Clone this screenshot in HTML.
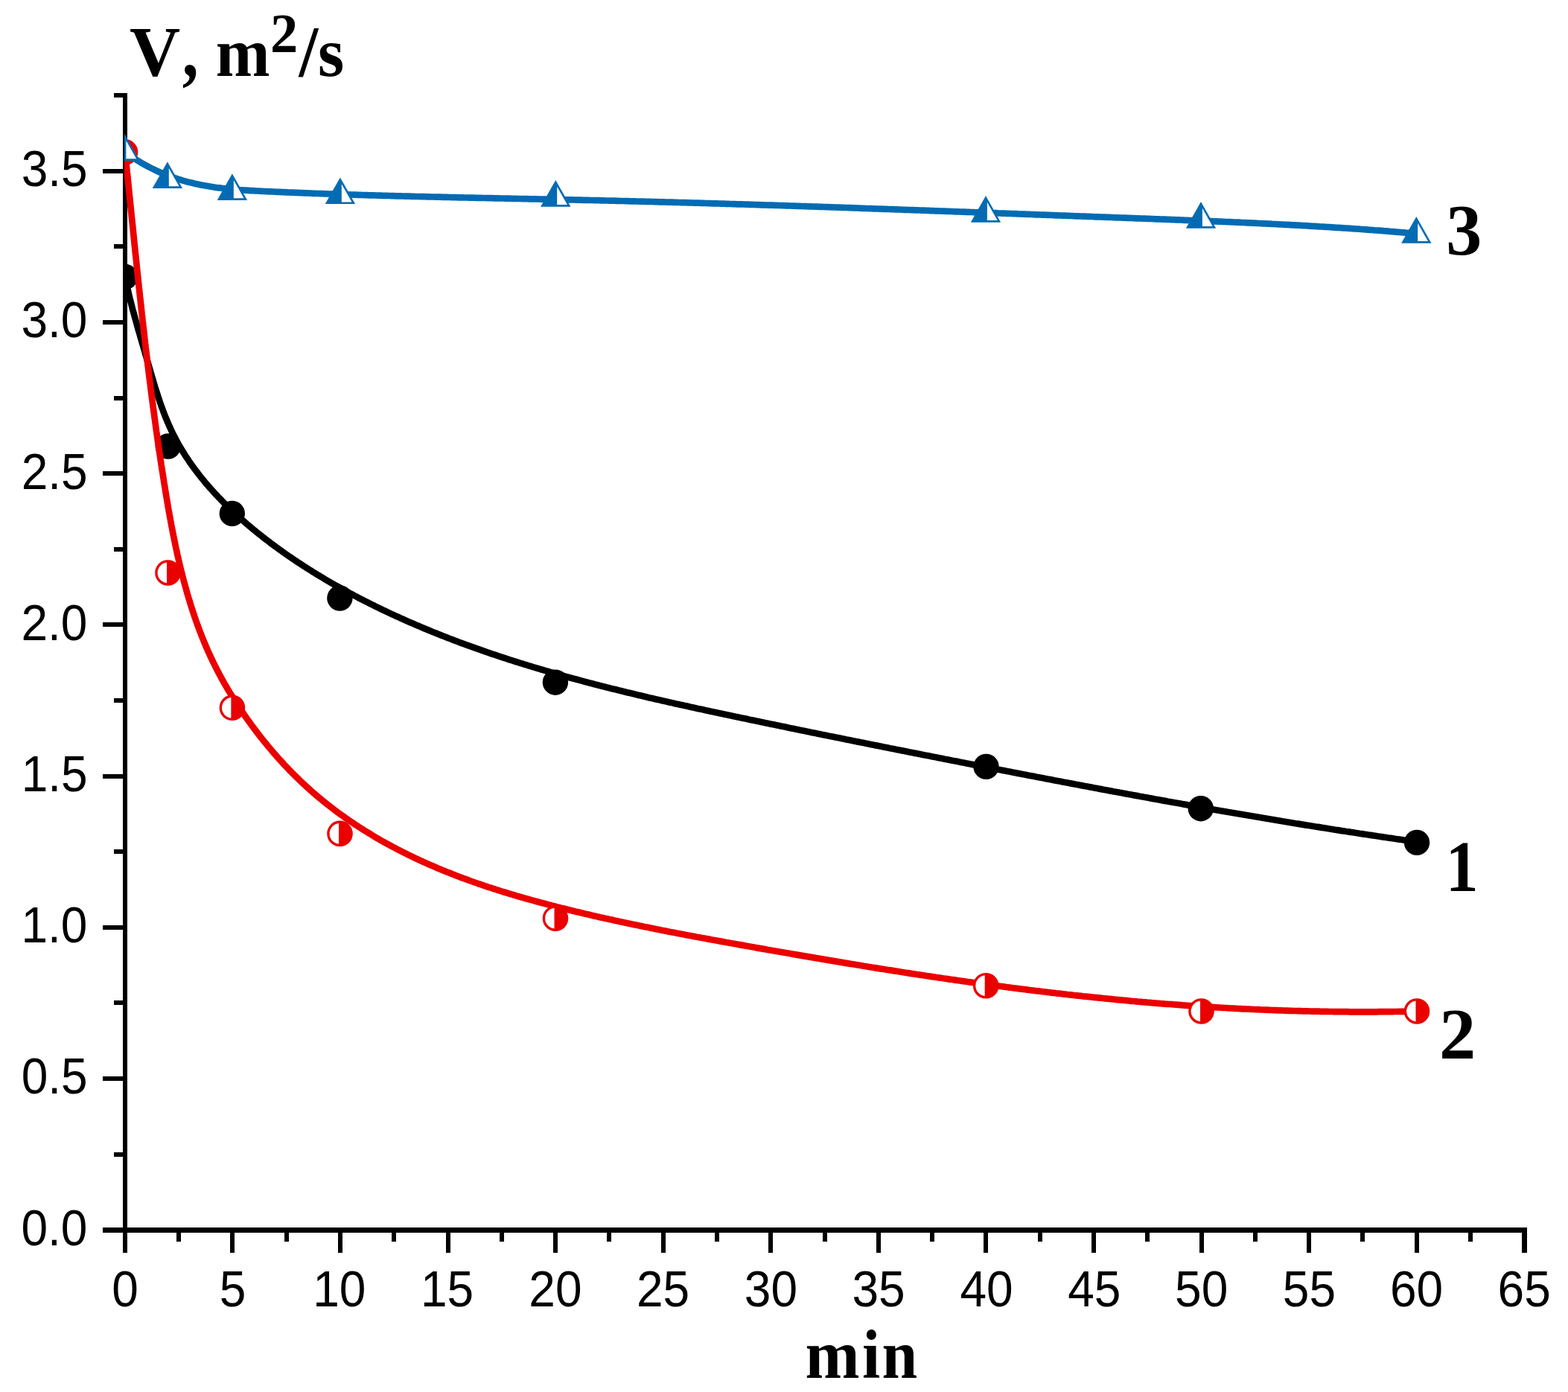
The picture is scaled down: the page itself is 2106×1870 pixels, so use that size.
<!DOCTYPE html>
<html><head><meta charset="utf-8"><title>V vs min</title><style>
html,body{margin:0;padding:0;background:#fff;}
svg{display:block;}
text{fill:#000;}
.ss{font-family:"Liberation Sans",Arial,sans-serif;font-size:64px;}
.sf{font-family:"Liberation Serif","Times New Roman",serif;font-weight:bold;font-size:96px;}
</style></head><body>
<svg width="2106" height="1870" viewBox="0 0 2106 1870">
<rect width="2106" height="1870" fill="#fff"/>
<g fill="#000" shape-rendering="crispEdges">
<rect x="165" y="125" width="6" height="1558"/>
<rect x="138" y="1649" width="1913" height="7"/>
<rect x="138" y="1649" width="30" height="6"/>
<rect x="153" y="1548" width="15" height="6"/>
<rect x="138" y="1446" width="30" height="6"/>
<rect x="153" y="1344" width="15" height="6"/>
<rect x="138" y="1243" width="30" height="6"/>
<rect x="153" y="1141" width="15" height="6"/>
<rect x="138" y="1040" width="30" height="6"/>
<rect x="153" y="938" width="15" height="6"/>
<rect x="138" y="836" width="30" height="6"/>
<rect x="153" y="735" width="15" height="6"/>
<rect x="138" y="633" width="30" height="6"/>
<rect x="153" y="532" width="15" height="6"/>
<rect x="138" y="430" width="30" height="6"/>
<rect x="153" y="328" width="15" height="6"/>
<rect x="138" y="227" width="30" height="6"/>
<rect x="153" y="125" width="15" height="6"/>
<rect x="165" y="1650" width="6" height="33"/>
<rect x="237" y="1650" width="6" height="18"/>
<rect x="309" y="1650" width="6" height="33"/>
<rect x="382" y="1650" width="6" height="18"/>
<rect x="454" y="1650" width="6" height="33"/>
<rect x="526" y="1650" width="6" height="18"/>
<rect x="599" y="1650" width="6" height="33"/>
<rect x="671" y="1650" width="6" height="18"/>
<rect x="743" y="1650" width="6" height="33"/>
<rect x="815" y="1650" width="6" height="18"/>
<rect x="888" y="1650" width="6" height="33"/>
<rect x="960" y="1650" width="6" height="18"/>
<rect x="1032" y="1650" width="6" height="33"/>
<rect x="1105" y="1650" width="6" height="18"/>
<rect x="1177" y="1650" width="6" height="33"/>
<rect x="1249" y="1650" width="6" height="18"/>
<rect x="1321" y="1650" width="6" height="33"/>
<rect x="1394" y="1650" width="6" height="18"/>
<rect x="1466" y="1650" width="6" height="33"/>
<rect x="1538" y="1650" width="6" height="18"/>
<rect x="1611" y="1650" width="6" height="33"/>
<rect x="1683" y="1650" width="6" height="18"/>
<rect x="1755" y="1650" width="6" height="33"/>
<rect x="1827" y="1650" width="6" height="18"/>
<rect x="1900" y="1650" width="6" height="33"/>
<rect x="1972" y="1650" width="6" height="18"/>
<rect x="2044" y="1650" width="7" height="33"/>
</g>
<defs><clipPath id="pc"><rect x="167" y="0" width="1939" height="1870"/></clipPath></defs>
<g clip-path="url(#pc)">
<path d="M168.0,372.0 L168.6,375.0 L169.2,377.9 L169.8,380.9 L170.5,383.8 L171.1,386.8 L171.8,389.7 L172.4,392.6 L173.1,395.5 L173.8,398.4 L174.5,401.3 L175.3,404.2 L176.0,407.1 L176.7,410.0 L177.5,412.9 L178.2,415.8 L179.0,418.7 L179.8,421.5 L180.6,424.4 L181.4,427.3 L182.2,430.2 L183.0,433.0 L183.8,435.9 L184.6,438.8 L185.4,441.6 L186.2,444.5 L187.1,447.3 L187.9,450.2 L188.7,453.1 L189.6,455.9 L190.4,458.8 L191.2,461.7 L192.1,464.5 L192.9,467.4 L193.8,470.3 L194.6,473.1 L195.4,476.0 L196.3,478.9 L197.1,481.8 L197.9,484.7 L198.8,487.6 L199.6,490.5 L200.4,493.4 L201.3,496.3 L202.1,499.2 L203.0,502.1 L203.8,505.0 L204.7,507.9 L205.5,510.8 L206.4,513.7 L207.3,516.6 L208.1,519.5 L209.0,522.3 L209.9,525.2 L210.9,528.1 L211.8,531.0 L212.7,533.8 L213.7,536.7 L214.6,539.5 L215.6,542.4 L216.6,545.2 L217.7,548.1 L218.7,550.9 L219.7,553.7 L220.8,556.5 L221.9,559.3 L223.0,562.0 L224.2,564.8 L225.3,567.6 L226.5,570.3 L227.7,573.0 L229.0,575.7 L230.2,578.4 L231.5,581.1 L232.8,583.8 L234.2,586.4 L235.6,589.1 L237.0,591.7 L238.4,594.3 L239.8,596.9 L241.3,599.4 L242.8,602.0 L244.3,604.5 L245.9,607.1 L247.4,609.6 L249.0,612.1 L250.6,614.6 L252.3,617.0 L253.9,619.5 L255.6,621.9 L257.3,624.4 L259.1,626.8 L260.8,629.2 L262.6,631.6 L264.4,633.9 L266.2,636.3 L268.0,638.6 L269.8,641.0 L271.7,643.3 L273.6,645.6 L275.5,647.9 L277.4,650.2 L279.4,652.4 L281.3,654.7 L283.3,656.9 L285.3,659.1 L287.3,661.4 L289.3,663.6 L291.4,665.7 L293.4,667.9 L295.5,670.1 L297.6,672.2 L299.7,674.4 L301.8,676.5 L304.0,678.6 L306.1,680.7 L308.3,682.8 L310.4,684.9 L312.6,686.9 L314.8,689.0 L317.0,691.0 L319.3,693.0 L321.5,695.1 L323.7,697.1 L326.0,699.0 L328.3,701.0 L330.5,703.0 L332.8,705.0 L335.1,706.9 L337.4,708.8 L339.7,710.8 L342.1,712.7 L344.4,714.6 L346.7,716.5 L349.1,718.3 L351.5,720.2 L353.8,722.1 L356.2,723.9 L358.6,725.7 L361.0,727.6 L363.4,729.4 L365.8,731.2 L368.2,733.0 L370.6,734.8 L373.0,736.5 L375.4,738.3 L377.9,740.0 L380.3,741.8 L382.8,743.5 L385.2,745.2 L387.7,747.0 L390.2,748.7 L392.7,750.4 L395.1,752.0 L397.6,753.7 L400.1,755.4 L402.6,757.0 L405.2,758.7 L407.7,760.3 L410.2,761.9 L412.7,763.5 L415.3,765.1 L417.8,766.7 L420.3,768.3 L422.9,769.9 L425.4,771.5 L428.0,773.0 L430.6,774.6 L433.2,776.1 L435.7,777.7 L438.3,779.2 L440.9,780.7 L443.5,782.2 L446.1,783.7 L448.7,785.2 L451.3,786.7 L453.9,788.1 L456.5,789.6 L459.2,791.1 L461.8,792.5 L464.4,793.9 L467.0,795.4 L469.7,796.8 L472.3,798.2 L475.0,799.6 L477.6,801.0 L480.3,802.4 L482.9,803.8 L485.6,805.2 L488.3,806.5 L490.9,807.9 L493.6,809.2 L496.3,810.6 L498.9,811.9 L501.6,813.2 L504.3,814.6 L507.0,815.9 L509.7,817.2 L512.4,818.5 L515.1,819.8 L517.8,821.0 L520.5,822.3 L523.2,823.6 L525.9,824.9 L528.6,826.1 L531.3,827.4 L534.0,828.6 L536.8,829.8 L539.5,831.1 L542.2,832.3 L544.9,833.5 L547.7,834.7 L550.4,835.9 L553.1,837.1 L555.9,838.3 L558.6,839.5 L561.4,840.6 L564.1,841.8 L566.9,843.0 L569.6,844.1 L572.4,845.3 L575.1,846.4 L577.9,847.5 L580.6,848.7 L583.4,849.8 L586.2,850.9 L589.0,852.0 L591.7,853.1 L594.5,854.2 L597.3,855.3 L600.1,856.4 L602.8,857.5 L605.6,858.5 L608.4,859.6 L611.2,860.7 L614.0,861.7 L616.8,862.8 L619.6,863.8 L622.4,864.8 L625.2,865.9 L628.0,866.9 L630.8,867.9 L633.6,868.9 L636.4,869.9 L639.2,870.9 L642.1,871.9 L644.9,872.9 L647.7,873.9 L650.5,874.9 L653.3,875.9 L656.2,876.8 L659.0,877.8 L661.8,878.8 L664.7,879.7 L667.5,880.7 L670.3,881.6 L673.2,882.6 L676.0,883.5 L678.9,884.4 L681.7,885.3 L684.5,886.3 L687.4,887.2 L690.2,888.1 L693.1,889.0 L695.9,889.9 L698.8,890.8 L701.7,891.7 L704.5,892.6 L707.4,893.4 L710.2,894.3 L713.1,895.2 L716.0,896.1 L718.8,896.9 L721.7,897.8 L724.6,898.6 L727.4,899.5 L730.3,900.3 L733.2,901.2 L736.1,902.0 L738.9,902.9 L741.8,903.7 L744.7,904.5 L747.6,905.3 L750.5,906.1 L753.3,907.0 L756.2,907.8 L759.1,908.6 L762.0,909.4 L764.9,910.2 L767.8,911.0 L770.7,911.8 L773.6,912.5 L776.5,913.3 L779.4,914.1 L782.3,914.9 L785.2,915.7 L788.1,916.4 L791.0,917.2 L793.9,917.9 L796.8,918.7 L799.7,919.5 L802.6,920.2 L805.5,921.0 L808.4,921.7 L811.3,922.4 L814.2,923.2 L817.1,923.9 L820.1,924.7 L823.0,925.4 L825.9,926.1 L828.8,926.8 L831.7,927.6 L834.6,928.3 L837.6,929.0 L840.5,929.7 L843.4,930.4 L846.3,931.1 L849.2,931.8 L852.2,932.5 L855.1,933.2 L858.0,933.9 L860.9,934.6 L863.8,935.3 L866.8,936.0 L869.7,936.7 L872.6,937.4 L875.6,938.0 L878.5,938.7 L881.4,939.4 L884.3,940.1 L887.3,940.7 L890.2,941.4 L893.1,942.1 L896.1,942.7 L899.0,943.4 L901.9,944.1 L904.9,944.7 L907.8,945.4 L910.7,946.0 L913.7,946.7 L916.6,947.3 L919.5,948.0 L922.5,948.6 L925.4,949.3 L928.3,949.9 L931.3,950.6 L934.2,951.2 L937.2,951.9 L940.1,952.5 L943.0,953.1 L946.0,953.8 L948.9,954.4 L951.8,955.0 L954.8,955.7 L957.7,956.3 L960.7,956.9 L963.6,957.6 L966.5,958.2 L969.5,958.8 L972.4,959.4 L975.3,960.1 L978.3,960.7 L981.2,961.3 L984.2,961.9 L987.1,962.6 L990.0,963.2 L993.0,963.8 L995.9,964.4 L998.8,965.0 L1001.8,965.6 L1004.7,966.3 L1007.6,966.9 L1010.6,967.5 L1013.5,968.1 L1016.5,968.7 L1019.4,969.3 L1022.3,969.9 L1025.3,970.6 L1028.2,971.2 L1031.1,971.8 L1034.1,972.4 L1037.0,973.0 L1039.9,973.6 L1042.9,974.2 L1045.8,974.8 L1048.7,975.4 L1051.7,976.0 L1054.6,976.6 L1057.5,977.3 L1060.5,977.9 L1063.4,978.5 L1066.3,979.1 L1069.3,979.7 L1072.2,980.3 L1075.1,980.9 L1078.1,981.5 L1081.0,982.1 L1083.9,982.7 L1086.9,983.3 L1089.8,983.9 L1092.7,984.5 L1095.7,985.1 L1098.6,985.7 L1101.5,986.3 L1104.5,986.9 L1107.4,987.5 L1110.3,988.1 L1113.3,988.7 L1116.2,989.2 L1119.1,989.8 L1122.1,990.4 L1125.0,991.0 L1127.9,991.6 L1130.9,992.2 L1133.8,992.8 L1136.7,993.4 L1139.7,994.0 L1142.6,994.6 L1145.5,995.2 L1148.5,995.8 L1151.4,996.4 L1154.3,996.9 L1157.2,997.5 L1160.2,998.1 L1163.1,998.7 L1166.0,999.3 L1169.0,999.9 L1171.9,1000.5 L1174.8,1001.1 L1177.8,1001.6 L1180.7,1002.2 L1183.6,1002.8 L1186.6,1003.4 L1189.5,1004.0 L1192.4,1004.6 L1195.4,1005.2 L1198.3,1005.7 L1201.2,1006.3 L1204.2,1006.9 L1207.1,1007.5 L1210.0,1008.1 L1213.0,1008.6 L1215.9,1009.2 L1218.8,1009.8 L1221.8,1010.4 L1224.7,1011.0 L1227.6,1011.6 L1230.6,1012.1 L1233.5,1012.7 L1236.4,1013.3 L1239.4,1013.9 L1242.3,1014.5 L1245.2,1015.0 L1248.2,1015.6 L1251.1,1016.2 L1254.0,1016.8 L1257.0,1017.3 L1259.9,1017.9 L1262.8,1018.5 L1265.8,1019.1 L1268.7,1019.7 L1271.6,1020.2 L1274.6,1020.8 L1277.5,1021.4 L1280.4,1022.0 L1283.4,1022.5 L1286.3,1023.1 L1289.2,1023.7 L1292.2,1024.3 L1295.1,1024.8 L1298.1,1025.4 L1301.0,1026.0 L1303.9,1026.6 L1306.9,1027.1 L1309.8,1027.7 L1312.7,1028.3 L1315.7,1028.9 L1318.6,1029.4 L1321.6,1030.0 L1324.5,1030.6 L1327.4,1031.1 L1330.4,1031.7 L1333.3,1032.3 L1336.2,1032.9 L1339.2,1033.4 L1342.1,1034.0 L1345.1,1034.6 L1348.0,1035.1 L1350.9,1035.7 L1353.9,1036.3 L1356.8,1036.8 L1359.8,1037.4 L1362.7,1038.0 L1365.6,1038.6 L1368.6,1039.1 L1371.5,1039.7 L1374.5,1040.3 L1377.4,1040.8 L1380.3,1041.4 L1383.3,1042.0 L1386.2,1042.5 L1389.2,1043.1 L1392.1,1043.7 L1395.1,1044.2 L1398.0,1044.8 L1400.9,1045.3 L1403.9,1045.9 L1406.8,1046.5 L1409.8,1047.0 L1412.7,1047.6 L1415.7,1048.2 L1418.6,1048.7 L1421.5,1049.3 L1424.5,1049.8 L1427.4,1050.4 L1430.4,1051.0 L1433.3,1051.5 L1436.3,1052.1 L1439.2,1052.6 L1442.1,1053.2 L1445.1,1053.8 L1448.0,1054.3 L1451.0,1054.9 L1453.9,1055.4 L1456.9,1056.0 L1459.8,1056.5 L1462.8,1057.1 L1465.7,1057.6 L1468.7,1058.2 L1471.6,1058.7 L1474.5,1059.3 L1477.5,1059.9 L1480.4,1060.4 L1483.4,1061.0 L1486.3,1061.5 L1489.3,1062.1 L1492.2,1062.6 L1495.2,1063.2 L1498.1,1063.7 L1501.1,1064.2 L1504.0,1064.8 L1507.0,1065.3 L1509.9,1065.9 L1512.9,1066.4 L1515.8,1067.0 L1518.8,1067.5 L1521.7,1068.1 L1524.7,1068.6 L1527.6,1069.1 L1530.6,1069.7 L1533.5,1070.2 L1536.5,1070.8 L1539.4,1071.3 L1542.3,1071.8 L1545.3,1072.4 L1548.2,1072.9 L1551.2,1073.5 L1554.1,1074.0 L1557.1,1074.5 L1560.0,1075.1 L1563.0,1075.6 L1565.9,1076.1 L1568.9,1076.7 L1571.8,1077.2 L1574.8,1077.7 L1577.8,1078.3 L1580.7,1078.8 L1583.7,1079.3 L1586.6,1079.8 L1589.6,1080.4 L1592.5,1080.9 L1595.5,1081.4 L1598.4,1082.0 L1601.4,1082.5 L1604.3,1083.0 L1607.3,1083.5 L1610.2,1084.0 L1613.2,1084.6 L1616.1,1085.1 L1619.1,1085.6 L1622.0,1086.1 L1625.0,1086.6 L1627.9,1087.2 L1630.9,1087.7 L1633.8,1088.2 L1636.8,1088.7 L1639.7,1089.2 L1642.7,1089.7 L1645.7,1090.2 L1648.6,1090.8 L1651.6,1091.3 L1654.5,1091.8 L1657.5,1092.3 L1660.4,1092.8 L1663.4,1093.3 L1666.3,1093.8 L1669.3,1094.3 L1672.2,1094.8 L1675.2,1095.3 L1678.2,1095.8 L1681.1,1096.3 L1684.1,1096.8 L1687.0,1097.3 L1690.0,1097.8 L1692.9,1098.3 L1695.9,1098.8 L1698.8,1099.3 L1701.8,1099.8 L1704.8,1100.3 L1707.7,1100.8 L1710.7,1101.3 L1713.6,1101.8 L1716.6,1102.3 L1719.5,1102.8 L1722.5,1103.3 L1725.4,1103.7 L1728.4,1104.2 L1731.4,1104.7 L1734.3,1105.2 L1737.3,1105.7 L1740.2,1106.2 L1743.2,1106.6 L1746.1,1107.1 L1749.1,1107.6 L1752.1,1108.1 L1755.0,1108.6 L1758.0,1109.0 L1760.9,1109.5 L1763.9,1110.0 L1766.8,1110.5 L1769.8,1110.9 L1772.8,1111.4 L1775.7,1111.9 L1778.7,1112.3 L1781.6,1112.8 L1784.6,1113.3 L1787.6,1113.7 L1790.5,1114.2 L1793.5,1114.7 L1796.4,1115.1 L1799.4,1115.6 L1802.3,1116.1 L1805.3,1116.5 L1808.3,1117.0 L1811.2,1117.4 L1814.2,1117.9 L1817.1,1118.3 L1820.1,1118.8 L1823.1,1119.2 L1826.0,1119.7 L1829.0,1120.1 L1831.9,1120.6 L1834.9,1121.0 L1837.9,1121.5 L1840.8,1121.9 L1843.8,1122.4 L1846.7,1122.8 L1849.7,1123.3 L1852.7,1123.7 L1855.6,1124.1 L1858.6,1124.6 L1861.5,1125.0 L1864.5,1125.5 L1867.5,1125.9 L1870.4,1126.3 L1873.4,1126.8 L1876.3,1127.2 L1879.3,1127.6 L1882.3,1128.0 L1885.2,1128.5 L1888.2,1128.9 L1891.1,1129.3 L1894.1,1129.7 L1897.1,1130.2 L1900.0,1130.6 L1903.0,1131.0" fill="none" stroke="#000000" stroke-width="8.7" stroke-linejoin="round"/>
<circle cx="168" cy="372" r="17.2" fill="#000000"/>
<circle cx="225.8" cy="599.5" r="17.2" fill="#000000"/>
<circle cx="311.8" cy="689.9" r="17.2" fill="#000000"/>
<circle cx="456.4" cy="803.5" r="17.2" fill="#000000"/>
<circle cx="745.9" cy="916.7" r="17.2" fill="#000000"/>
<circle cx="1324.5" cy="1029.9" r="17.2" fill="#000000"/>
<circle cx="1612.8" cy="1086.2" r="17.2" fill="#000000"/>
<circle cx="1903" cy="1131.9" r="17.2" fill="#000000"/>
<path d="M168.0,204.4 L168.3,207.4 L168.6,210.4 L168.9,213.3 L169.2,216.3 L169.5,219.3 L169.8,222.3 L170.1,225.3 L170.4,228.3 L170.7,231.2 L171.1,234.2 L171.4,237.2 L171.7,240.2 L172.0,243.2 L172.3,246.2 L172.6,249.1 L172.9,252.1 L173.2,255.1 L173.5,258.1 L173.8,261.1 L174.1,264.1 L174.4,267.0 L174.7,270.0 L175.0,273.0 L175.3,276.0 L175.6,279.0 L175.9,282.0 L176.2,284.9 L176.5,287.9 L176.8,290.9 L177.1,293.9 L177.4,296.9 L177.8,299.8 L178.1,302.8 L178.4,305.8 L178.7,308.8 L179.0,311.8 L179.3,314.8 L179.6,317.7 L179.9,320.7 L180.2,323.7 L180.5,326.7 L180.8,329.7 L181.1,332.6 L181.4,335.6 L181.7,338.6 L182.0,341.6 L182.4,344.6 L182.7,347.6 L183.0,350.5 L183.3,353.5 L183.6,356.5 L183.9,359.5 L184.2,362.5 L184.5,365.4 L184.8,368.4 L185.2,371.4 L185.5,374.4 L185.8,377.4 L186.1,380.3 L186.4,383.3 L186.7,386.3 L187.1,389.3 L187.4,392.3 L187.7,395.2 L188.0,398.2 L188.4,401.2 L188.7,404.2 L189.0,407.1 L189.3,410.1 L189.7,413.1 L190.0,416.1 L190.3,419.1 L190.6,422.0 L191.0,425.0 L191.3,428.0 L191.6,431.0 L192.0,433.9 L192.3,436.9 L192.6,439.9 L193.0,442.9 L193.3,445.9 L193.7,448.8 L194.0,451.8 L194.3,454.8 L194.7,457.8 L195.0,460.7 L195.4,463.7 L195.7,466.7 L196.1,469.7 L196.4,472.6 L196.8,475.6 L197.1,478.6 L197.5,481.6 L197.8,484.5 L198.2,487.5 L198.5,490.5 L198.9,493.5 L199.3,496.4 L199.6,499.4 L200.0,502.4 L200.4,505.4 L200.7,508.3 L201.1,511.3 L201.5,514.3 L201.9,517.3 L202.2,520.2 L202.6,523.2 L203.0,526.2 L203.4,529.1 L203.7,532.1 L204.1,535.1 L204.5,538.1 L204.9,541.0 L205.3,544.0 L205.7,547.0 L206.1,549.9 L206.5,552.9 L206.9,555.9 L207.3,558.9 L207.7,561.8 L208.1,564.8 L208.5,567.8 L208.9,570.7 L209.3,573.7 L209.7,576.7 L210.1,579.6 L210.6,582.6 L211.0,585.6 L211.4,588.5 L211.8,591.5 L212.2,594.5 L212.7,597.4 L213.1,600.4 L213.5,603.4 L214.0,606.3 L214.4,609.3 L214.8,612.3 L215.3,615.2 L215.7,618.2 L216.2,621.2 L216.6,624.1 L217.1,627.1 L217.5,630.1 L218.0,633.0 L218.5,636.0 L218.9,639.0 L219.4,641.9 L219.9,644.9 L220.3,647.9 L220.8,650.8 L221.3,653.8 L221.8,656.7 L222.2,659.7 L222.7,662.7 L223.2,665.6 L223.7,668.6 L224.2,671.5 L224.7,674.5 L225.2,677.5 L225.7,680.4 L226.2,683.4 L226.7,686.3 L227.3,689.3 L227.8,692.2 L228.3,695.2 L228.9,698.1 L229.4,701.1 L229.9,704.0 L230.5,707.0 L231.1,709.9 L231.6,712.9 L232.2,715.8 L232.8,718.8 L233.4,721.7 L234.0,724.7 L234.6,727.6 L235.2,730.5 L235.8,733.5 L236.4,736.4 L237.1,739.3 L237.7,742.3 L238.3,745.2 L239.0,748.1 L239.7,751.0 L240.3,754.0 L241.0,756.9 L241.7,759.8 L242.4,762.7 L243.1,765.6 L243.8,768.5 L244.6,771.4 L245.3,774.3 L246.1,777.2 L246.8,780.1 L247.6,783.0 L248.4,785.9 L249.2,788.8 L250.0,791.7 L250.8,794.6 L251.6,797.5 L252.5,800.3 L253.3,803.2 L254.2,806.1 L255.1,809.0 L255.9,811.8 L256.8,814.7 L257.8,817.5 L258.7,820.4 L259.6,823.2 L260.6,826.1 L261.5,828.9 L262.5,831.7 L263.5,834.6 L264.5,837.4 L265.5,840.2 L266.6,843.0 L267.6,845.8 L268.7,848.6 L269.7,851.4 L270.8,854.2 L271.9,857.0 L273.1,859.7 L274.2,862.5 L275.4,865.3 L276.5,868.0 L277.7,870.8 L278.9,873.5 L280.1,876.2 L281.4,879.0 L282.6,881.7 L283.9,884.4 L285.2,887.1 L286.5,889.8 L287.8,892.4 L289.1,895.1 L290.5,897.8 L291.8,900.4 L293.2,903.1 L294.6,905.7 L296.0,908.3 L297.4,911.0 L298.9,913.6 L300.3,916.2 L301.8,918.8 L303.3,921.4 L304.8,924.0 L306.3,926.5 L307.9,929.1 L309.4,931.7 L311.0,934.2 L312.6,936.8 L314.2,939.3 L315.8,941.8 L317.4,944.3 L319.0,946.9 L320.7,949.4 L322.3,951.9 L324.0,954.3 L325.7,956.8 L327.4,959.3 L329.1,961.8 L330.8,964.2 L332.5,966.7 L334.3,969.1 L336.0,971.5 L337.8,974.0 L339.6,976.4 L341.4,978.8 L343.2,981.2 L345.0,983.6 L346.8,986.0 L348.7,988.4 L350.5,990.7 L352.4,993.1 L354.3,995.4 L356.2,997.8 L358.1,1000.1 L360.0,1002.4 L361.9,1004.7 L363.9,1007.0 L365.8,1009.3 L367.8,1011.6 L369.8,1013.9 L371.7,1016.1 L373.7,1018.4 L375.7,1020.6 L377.8,1022.8 L379.8,1025.0 L381.8,1027.2 L383.9,1029.4 L386.0,1031.6 L388.0,1033.8 L390.1,1035.9 L392.2,1038.1 L394.3,1040.2 L396.5,1042.3 L398.6,1044.4 L400.8,1046.5 L402.9,1048.6 L405.1,1050.7 L407.3,1052.7 L409.5,1054.8 L411.7,1056.8 L413.9,1058.8 L416.1,1060.8 L418.3,1062.8 L420.6,1064.8 L422.9,1066.7 L425.1,1068.7 L427.4,1070.6 L429.7,1072.5 L432.0,1074.4 L434.3,1076.3 L436.6,1078.2 L439.0,1080.1 L441.3,1081.9 L443.7,1083.7 L446.1,1085.6 L448.4,1087.4 L450.8,1089.2 L453.2,1091.0 L455.6,1092.7 L458.0,1094.5 L460.5,1096.2 L462.9,1097.9 L465.3,1099.7 L467.8,1101.4 L470.3,1103.1 L472.7,1104.7 L475.2,1106.4 L477.7,1108.1 L480.2,1109.7 L482.7,1111.3 L485.2,1112.9 L487.7,1114.5 L490.3,1116.1 L492.8,1117.7 L495.4,1119.3 L497.9,1120.8 L500.5,1122.4 L503.0,1123.9 L505.6,1125.4 L508.2,1126.9 L510.8,1128.4 L513.4,1129.9 L516.0,1131.4 L518.6,1132.8 L521.3,1134.3 L523.9,1135.7 L526.5,1137.1 L529.2,1138.5 L531.8,1139.9 L534.5,1141.3 L537.1,1142.7 L539.8,1144.0 L542.5,1145.4 L545.1,1146.7 L547.8,1148.1 L550.5,1149.4 L553.2,1150.7 L555.9,1152.0 L558.6,1153.3 L561.4,1154.5 L564.1,1155.8 L566.8,1157.0 L569.5,1158.3 L572.3,1159.5 L575.0,1160.7 L577.7,1161.9 L580.5,1163.1 L583.3,1164.3 L586.0,1165.5 L588.8,1166.7 L591.5,1167.8 L594.3,1169.0 L597.1,1170.1 L599.9,1171.2 L602.7,1172.3 L605.4,1173.4 L608.2,1174.5 L611.0,1175.6 L613.8,1176.7 L616.6,1177.8 L619.4,1178.8 L622.2,1179.9 L625.1,1180.9 L627.9,1181.9 L630.7,1183.0 L633.5,1184.0 L636.3,1185.0 L639.2,1186.0 L642.0,1187.0 L644.8,1187.9 L647.7,1188.9 L650.5,1189.9 L653.4,1190.8 L656.2,1191.8 L659.1,1192.7 L661.9,1193.6 L664.8,1194.5 L667.6,1195.5 L670.5,1196.4 L673.4,1197.3 L676.2,1198.2 L679.1,1199.0 L682.0,1199.9 L684.8,1200.8 L687.7,1201.6 L690.6,1202.5 L693.5,1203.4 L696.4,1204.2 L699.2,1205.0 L702.1,1205.9 L705.0,1206.7 L707.9,1207.5 L710.8,1208.3 L713.7,1209.1 L716.6,1209.9 L719.5,1210.7 L722.4,1211.5 L725.3,1212.3 L728.2,1213.1 L731.1,1213.8 L734.0,1214.6 L736.9,1215.4 L739.8,1216.1 L742.7,1216.9 L745.6,1217.6 L748.5,1218.4 L751.4,1219.1 L754.3,1219.9 L757.2,1220.6 L760.1,1221.3 L763.0,1222.0 L765.9,1222.8 L768.8,1223.5 L771.8,1224.2 L774.7,1224.9 L777.6,1225.6 L780.5,1226.3 L783.4,1227.0 L786.3,1227.7 L789.3,1228.3 L792.2,1229.0 L795.1,1229.7 L798.0,1230.4 L800.9,1231.1 L803.8,1231.7 L806.8,1232.4 L809.7,1233.0 L812.6,1233.7 L815.5,1234.3 L818.5,1235.0 L821.4,1235.6 L824.3,1236.3 L827.2,1236.9 L830.2,1237.6 L833.1,1238.2 L836.0,1238.8 L838.9,1239.4 L841.9,1240.1 L844.8,1240.7 L847.7,1241.3 L850.7,1241.9 L853.6,1242.5 L856.5,1243.1 L859.4,1243.7 L862.4,1244.3 L865.3,1245.0 L868.2,1245.5 L871.2,1246.1 L874.1,1246.7 L877.1,1247.3 L880.0,1247.9 L882.9,1248.5 L885.9,1249.1 L888.8,1249.7 L891.7,1250.2 L894.7,1250.8 L897.6,1251.4 L900.5,1252.0 L903.5,1252.5 L906.4,1253.1 L909.4,1253.7 L912.3,1254.2 L915.2,1254.8 L918.2,1255.3 L921.1,1255.9 L924.1,1256.5 L927.0,1257.0 L930.0,1257.6 L932.9,1258.1 L935.8,1258.7 L938.8,1259.2 L941.7,1259.8 L944.7,1260.3 L947.6,1260.8 L950.6,1261.4 L953.5,1261.9 L956.4,1262.5 L959.4,1263.0 L962.3,1263.5 L965.3,1264.1 L968.2,1264.6 L971.2,1265.1 L974.1,1265.7 L977.1,1266.2 L980.0,1266.7 L983.0,1267.3 L985.9,1267.8 L988.9,1268.3 L991.8,1268.9 L994.8,1269.4 L997.7,1269.9 L1000.7,1270.4 L1003.6,1271.0 L1006.6,1271.5 L1009.5,1272.0 L1012.5,1272.5 L1015.4,1273.1 L1018.4,1273.6 L1021.3,1274.1 L1024.3,1274.6 L1027.2,1275.1 L1030.2,1275.7 L1033.1,1276.2 L1036.1,1276.7 L1039.0,1277.2 L1042.0,1277.7 L1044.9,1278.3 L1047.9,1278.8 L1050.8,1279.3 L1053.8,1279.8 L1056.7,1280.3 L1059.7,1280.8 L1062.6,1281.3 L1065.6,1281.9 L1068.6,1282.4 L1071.5,1282.9 L1074.5,1283.4 L1077.4,1283.9 L1080.4,1284.4 L1083.3,1284.9 L1086.3,1285.4 L1089.2,1285.9 L1092.2,1286.4 L1095.1,1286.9 L1098.1,1287.4 L1101.1,1287.9 L1104.0,1288.4 L1107.0,1288.9 L1109.9,1289.4 L1112.9,1289.9 L1115.8,1290.4 L1118.8,1290.9 L1121.8,1291.4 L1124.7,1291.9 L1127.7,1292.4 L1130.6,1292.9 L1133.6,1293.4 L1136.5,1293.9 L1139.5,1294.4 L1142.5,1294.9 L1145.4,1295.3 L1148.4,1295.8 L1151.3,1296.3 L1154.3,1296.8 L1157.3,1297.3 L1160.2,1297.8 L1163.2,1298.2 L1166.1,1298.7 L1169.1,1299.2 L1172.1,1299.7 L1175.0,1300.1 L1178.0,1300.6 L1180.9,1301.1 L1183.9,1301.6 L1186.9,1302.0 L1189.8,1302.5 L1192.8,1303.0 L1195.8,1303.4 L1198.7,1303.9 L1201.7,1304.4 L1204.6,1304.8 L1207.6,1305.3 L1210.6,1305.8 L1213.5,1306.2 L1216.5,1306.7 L1219.5,1307.1 L1222.4,1307.6 L1225.4,1308.1 L1228.4,1308.5 L1231.3,1309.0 L1234.3,1309.4 L1237.2,1309.9 L1240.2,1310.3 L1243.2,1310.8 L1246.1,1311.2 L1249.1,1311.6 L1252.1,1312.1 L1255.0,1312.5 L1258.0,1313.0 L1261.0,1313.4 L1263.9,1313.8 L1266.9,1314.3 L1269.9,1314.7 L1272.8,1315.1 L1275.8,1315.6 L1278.8,1316.0 L1281.7,1316.4 L1284.7,1316.9 L1287.7,1317.3 L1290.7,1317.7 L1293.6,1318.1 L1296.6,1318.5 L1299.6,1319.0 L1302.5,1319.4 L1305.5,1319.8 L1308.5,1320.2 L1311.4,1320.6 L1314.4,1321.0 L1317.4,1321.4 L1320.3,1321.8 L1323.3,1322.2 L1326.3,1322.7 L1329.3,1323.1 L1332.2,1323.5 L1335.2,1323.9 L1338.2,1324.2 L1341.1,1324.6 L1344.1,1325.0 L1347.1,1325.4 L1350.1,1325.8 L1353.0,1326.2 L1356.0,1326.6 L1359.0,1327.0 L1362.0,1327.4 L1364.9,1327.7 L1367.9,1328.1 L1370.9,1328.5 L1373.9,1328.9 L1376.8,1329.2 L1379.8,1329.6 L1382.8,1330.0 L1385.8,1330.3 L1388.7,1330.7 L1391.7,1331.1 L1394.7,1331.4 L1397.7,1331.8 L1400.6,1332.2 L1403.6,1332.5 L1406.6,1332.9 L1409.6,1333.2 L1412.5,1333.6 L1415.5,1333.9 L1418.5,1334.3 L1421.5,1334.6 L1424.4,1334.9 L1427.4,1335.3 L1430.4,1335.6 L1433.4,1336.0 L1436.4,1336.3 L1439.3,1336.6 L1442.3,1337.0 L1445.3,1337.3 L1448.3,1337.6 L1451.3,1337.9 L1454.2,1338.3 L1457.2,1338.6 L1460.2,1338.9 L1463.2,1339.2 L1466.2,1339.5 L1469.1,1339.8 L1472.1,1340.1 L1475.1,1340.4 L1478.1,1340.7 L1481.1,1341.0 L1484.0,1341.3 L1487.0,1341.6 L1490.0,1341.9 L1493.0,1342.2 L1496.0,1342.5 L1498.9,1342.8 L1501.9,1343.1 L1504.9,1343.4 L1507.9,1343.7 L1510.9,1343.9 L1513.9,1344.2 L1516.8,1344.5 L1519.8,1344.8 L1522.8,1345.0 L1525.8,1345.3 L1528.8,1345.6 L1531.8,1345.8 L1534.7,1346.1 L1537.7,1346.3 L1540.7,1346.6 L1543.7,1346.8 L1546.7,1347.1 L1549.7,1347.3 L1552.7,1347.6 L1555.6,1347.8 L1558.6,1348.1 L1561.6,1348.3 L1564.6,1348.6 L1567.6,1348.8 L1570.6,1349.0 L1573.6,1349.2 L1576.6,1349.5 L1579.5,1349.7 L1582.5,1349.9 L1585.5,1350.1 L1588.5,1350.4 L1591.5,1350.6 L1594.5,1350.8 L1597.5,1351.0 L1600.5,1351.2 L1603.4,1351.4 L1606.4,1351.6 L1609.4,1351.8 L1612.4,1352.0 L1615.4,1352.2 L1618.4,1352.4 L1621.4,1352.6 L1624.4,1352.8 L1627.4,1352.9 L1630.4,1353.1 L1633.3,1353.3 L1636.3,1353.5 L1639.3,1353.7 L1642.3,1353.8 L1645.3,1354.0 L1648.3,1354.2 L1651.3,1354.3 L1654.3,1354.5 L1657.3,1354.6 L1660.3,1354.8 L1663.3,1355.0 L1666.2,1355.1 L1669.2,1355.3 L1672.2,1355.4 L1675.2,1355.5 L1678.2,1355.7 L1681.2,1355.8 L1684.2,1356.0 L1687.2,1356.1 L1690.2,1356.2 L1693.2,1356.4 L1696.2,1356.5 L1699.2,1356.6 L1702.2,1356.7 L1705.2,1356.8 L1708.1,1357.0 L1711.1,1357.1 L1714.1,1357.2 L1717.1,1357.3 L1720.1,1357.4 L1723.1,1357.5 L1726.1,1357.6 L1729.1,1357.7 L1732.1,1357.8 L1735.1,1357.9 L1738.1,1358.0 L1741.1,1358.0 L1744.1,1358.1 L1747.1,1358.2 L1750.1,1358.3 L1753.1,1358.3 L1756.1,1358.4 L1759.1,1358.5 L1762.1,1358.6 L1765.1,1358.6 L1768.1,1358.7 L1771.0,1358.7 L1774.0,1358.8 L1777.0,1358.8 L1780.0,1358.9 L1783.0,1358.9 L1786.0,1359.0 L1789.0,1359.0 L1792.0,1359.1 L1795.0,1359.1 L1798.0,1359.1 L1801.0,1359.2 L1804.0,1359.2 L1807.0,1359.2 L1810.0,1359.2 L1813.0,1359.3 L1816.0,1359.3 L1819.0,1359.3 L1822.0,1359.3 L1825.0,1359.3 L1828.0,1359.3 L1831.0,1359.3 L1834.0,1359.3 L1837.0,1359.3 L1840.0,1359.3 L1843.0,1359.3 L1846.0,1359.3 L1849.0,1359.3 L1852.0,1359.2 L1855.0,1359.2 L1858.0,1359.2 L1861.0,1359.2 L1864.0,1359.1 L1867.0,1359.1 L1870.0,1359.1 L1873.0,1359.0 L1876.0,1359.0 L1879.0,1358.9 L1882.0,1358.9 L1885.0,1358.8 L1888.0,1358.8 L1891.0,1358.7 L1894.0,1358.7 L1897.0,1358.6 L1900.0,1358.5 L1903.0,1358.5" fill="none" stroke="#EB0000" stroke-width="8.7" stroke-linejoin="round"/>
<circle cx="168" cy="204.4" r="15.60" fill="#fff" stroke="#EB0000" stroke-width="3.4"/>
<path d="M166.50,188.87 A15.60,15.60 0 1 1 166.50,219.93 Z" fill="#EB0000"/>
<circle cx="225.5" cy="769.5" r="15.60" fill="#fff" stroke="#EB0000" stroke-width="3.4"/>
<path d="M224.00,753.97 A15.60,15.60 0 1 1 224.00,785.03 Z" fill="#EB0000"/>
<circle cx="311.9" cy="950.8" r="15.60" fill="#fff" stroke="#EB0000" stroke-width="3.4"/>
<path d="M310.40,935.27 A15.60,15.60 0 1 1 310.40,966.33 Z" fill="#EB0000"/>
<circle cx="456.5" cy="1119.9" r="15.60" fill="#fff" stroke="#EB0000" stroke-width="3.4"/>
<path d="M455.00,1104.37 A15.60,15.60 0 1 1 455.00,1135.43 Z" fill="#EB0000"/>
<circle cx="746" cy="1233.7" r="15.60" fill="#fff" stroke="#EB0000" stroke-width="3.4"/>
<path d="M744.50,1218.17 A15.60,15.60 0 1 1 744.50,1249.23 Z" fill="#EB0000"/>
<circle cx="1324.2" cy="1324.2" r="15.60" fill="#fff" stroke="#EB0000" stroke-width="3.4"/>
<path d="M1322.70,1308.67 A15.60,15.60 0 1 1 1322.70,1339.73 Z" fill="#EB0000"/>
<circle cx="1613.5" cy="1358.5" r="15.60" fill="#fff" stroke="#EB0000" stroke-width="3.4"/>
<path d="M1612.00,1342.97 A15.60,15.60 0 1 1 1612.00,1374.03 Z" fill="#EB0000"/>
<circle cx="1903" cy="1358.5" r="15.60" fill="#fff" stroke="#EB0000" stroke-width="3.4"/>
<path d="M1901.50,1342.97 A15.60,15.60 0 1 1 1901.50,1374.03 Z" fill="#EB0000"/>
<path d="M168.0,203.9 L170.5,205.8 L172.9,207.6 L175.4,209.4 L177.9,211.1 L180.5,212.8 L183.0,214.5 L185.6,216.1 L188.2,217.7 L190.8,219.2 L193.4,220.7 L196.0,222.2 L198.6,223.6 L201.3,225.0 L204.0,226.4 L206.7,227.7 L209.4,229.0 L212.1,230.2 L214.8,231.4 L217.6,232.6 L220.3,233.8 L223.1,234.9 L225.9,236.0 L228.7,237.0 L231.5,238.0 L234.3,239.0 L237.1,239.9 L239.9,240.8 L242.8,241.7 L245.6,242.6 L248.5,243.4 L251.4,244.2 L254.2,244.9 L257.1,245.6 L260.0,246.3 L262.9,247.0 L265.8,247.6 L268.7,248.2 L271.6,248.8 L274.5,249.3 L277.5,249.8 L280.4,250.3 L283.3,250.8 L286.3,251.2 L289.2,251.7 L292.2,252.1 L295.1,252.4 L298.1,252.8 L301.1,253.1 L304.0,253.5 L307.0,253.8 L310.0,254.1 L313.0,254.3 L315.9,254.6 L318.9,254.8 L321.9,255.1 L324.9,255.3 L327.9,255.5 L330.9,255.7 L333.9,255.9 L336.9,256.1 L339.9,256.2 L342.9,256.4 L345.9,256.5 L348.9,256.7 L351.9,256.8 L354.9,257.0 L357.9,257.1 L360.9,257.3 L363.9,257.4 L366.9,257.5 L369.9,257.7 L372.9,257.8 L375.9,257.9 L378.9,258.1 L381.9,258.2 L384.9,258.3 L387.9,258.5 L390.9,258.6 L393.9,258.7 L396.9,258.8 L399.9,258.9 L402.9,259.1 L405.9,259.2 L408.9,259.3 L411.9,259.4 L414.9,259.5 L417.9,259.6 L420.9,259.8 L423.9,259.9 L426.9,260.0 L429.9,260.1 L432.9,260.2 L435.9,260.3 L438.9,260.4 L441.9,260.5 L444.9,260.6 L447.9,260.7 L450.9,260.8 L453.9,260.9 L456.9,261.0 L459.9,261.1 L462.9,261.2 L465.9,261.3 L468.9,261.4 L471.9,261.5 L474.9,261.6 L477.9,261.7 L480.9,261.8 L483.9,261.9 L486.9,262.0 L489.9,262.1 L492.9,262.2 L495.9,262.3 L498.9,262.3 L501.9,262.4 L504.9,262.5 L507.9,262.6 L510.9,262.7 L513.9,262.8 L516.9,262.9 L519.9,262.9 L522.8,263.0 L525.8,263.1 L528.8,263.2 L531.8,263.3 L534.8,263.3 L537.8,263.4 L540.8,263.5 L543.8,263.6 L546.8,263.7 L549.8,263.7 L552.8,263.8 L555.8,263.9 L558.8,264.0 L561.8,264.0 L564.8,264.1 L567.8,264.2 L570.8,264.2 L573.8,264.3 L576.8,264.4 L579.8,264.5 L582.8,264.5 L585.8,264.6 L588.8,264.7 L591.7,264.7 L594.7,264.8 L597.7,264.9 L600.7,264.9 L603.7,265.0 L606.7,265.1 L609.7,265.1 L612.7,265.2 L615.7,265.3 L618.7,265.3 L621.7,265.4 L624.7,265.5 L627.7,265.5 L630.7,265.6 L633.7,265.7 L636.7,265.7 L639.7,265.8 L642.7,265.8 L645.6,265.9 L648.6,266.0 L651.6,266.0 L654.6,266.1 L657.6,266.2 L660.6,266.2 L663.6,266.3 L666.6,266.3 L669.6,266.4 L672.6,266.5 L675.6,266.5 L678.6,266.6 L681.6,266.6 L684.6,266.7 L687.6,266.8 L690.6,266.8 L693.5,266.9 L696.5,267.0 L699.5,267.0 L702.5,267.1 L705.5,267.1 L708.5,267.2 L711.5,267.3 L714.5,267.3 L717.5,267.4 L720.5,267.4 L723.5,267.5 L726.5,267.6 L729.5,267.6 L732.5,267.7 L735.5,267.8 L738.4,267.8 L741.4,267.9 L744.4,267.9 L747.4,268.0 L750.4,268.1 L753.4,268.1 L756.4,268.2 L759.4,268.3 L762.4,268.3 L765.4,268.4 L768.4,268.4 L771.4,268.5 L774.4,268.6 L777.4,268.6 L780.4,268.7 L783.4,268.8 L786.3,268.8 L789.3,268.9 L792.3,269.0 L795.3,269.0 L798.3,269.1 L801.3,269.2 L804.3,269.2 L807.3,269.3 L810.3,269.4 L813.3,269.5 L816.3,269.5 L819.3,269.6 L822.3,269.7 L825.3,269.7 L828.3,269.8 L831.3,269.9 L834.2,270.0 L837.2,270.0 L840.2,270.1 L843.2,270.2 L846.2,270.3 L849.2,270.3 L852.2,270.4 L855.2,270.5 L858.2,270.6 L861.2,270.6 L864.2,270.7 L867.2,270.8 L870.2,270.9 L873.2,270.9 L876.2,271.0 L879.2,271.1 L882.2,271.2 L885.2,271.3 L888.1,271.3 L891.1,271.4 L894.1,271.5 L897.1,271.6 L900.1,271.7 L903.1,271.7 L906.1,271.8 L909.1,271.9 L912.1,272.0 L915.1,272.1 L918.1,272.2 L921.1,272.2 L924.1,272.3 L927.1,272.4 L930.1,272.5 L933.1,272.6 L936.1,272.7 L939.1,272.7 L942.1,272.8 L945.0,272.9 L948.0,273.0 L951.0,273.1 L954.0,273.2 L957.0,273.3 L960.0,273.4 L963.0,273.4 L966.0,273.5 L969.0,273.6 L972.0,273.7 L975.0,273.8 L978.0,273.9 L981.0,274.0 L984.0,274.1 L987.0,274.2 L990.0,274.3 L993.0,274.3 L996.0,274.4 L999.0,274.5 L1002.0,274.6 L1004.9,274.7 L1007.9,274.8 L1010.9,274.9 L1013.9,275.0 L1016.9,275.1 L1019.9,275.2 L1022.9,275.3 L1025.9,275.4 L1028.9,275.5 L1031.9,275.6 L1034.9,275.6 L1037.9,275.7 L1040.9,275.8 L1043.9,275.9 L1046.9,276.0 L1049.9,276.1 L1052.9,276.2 L1055.9,276.3 L1058.9,276.4 L1061.9,276.5 L1064.9,276.6 L1067.8,276.7 L1070.8,276.8 L1073.8,276.9 L1076.8,277.0 L1079.8,277.1 L1082.8,277.2 L1085.8,277.3 L1088.8,277.4 L1091.8,277.5 L1094.8,277.6 L1097.8,277.7 L1100.8,277.8 L1103.8,277.9 L1106.8,278.0 L1109.8,278.1 L1112.8,278.2 L1115.8,278.3 L1118.8,278.4 L1121.8,278.5 L1124.8,278.6 L1127.8,278.7 L1130.8,278.8 L1133.8,278.9 L1136.7,279.0 L1139.7,279.1 L1142.7,279.2 L1145.7,279.3 L1148.7,279.4 L1151.7,279.5 L1154.7,279.6 L1157.7,279.8 L1160.7,279.9 L1163.7,280.0 L1166.7,280.1 L1169.7,280.2 L1172.7,280.3 L1175.7,280.4 L1178.7,280.5 L1181.7,280.6 L1184.7,280.7 L1187.7,280.8 L1190.7,280.9 L1193.7,281.0 L1196.7,281.1 L1199.7,281.2 L1202.6,281.3 L1205.6,281.4 L1208.6,281.5 L1211.6,281.7 L1214.6,281.8 L1217.6,281.9 L1220.6,282.0 L1223.6,282.1 L1226.6,282.2 L1229.6,282.3 L1232.6,282.4 L1235.6,282.5 L1238.6,282.6 L1241.6,282.7 L1244.6,282.8 L1247.6,282.9 L1250.6,283.1 L1253.6,283.2 L1256.6,283.3 L1259.6,283.4 L1262.6,283.5 L1265.6,283.6 L1268.5,283.7 L1271.5,283.8 L1274.5,283.9 L1277.5,284.0 L1280.5,284.2 L1283.5,284.3 L1286.5,284.4 L1289.5,284.5 L1292.5,284.6 L1295.5,284.7 L1298.5,284.8 L1301.5,284.9 L1304.5,285.0 L1307.5,285.1 L1310.5,285.3 L1313.5,285.4 L1316.5,285.5 L1319.5,285.6 L1322.5,285.7 L1325.5,285.8 L1328.5,285.9 L1331.4,286.0 L1334.4,286.1 L1337.4,286.2 L1340.4,286.4 L1343.4,286.5 L1346.4,286.6 L1349.4,286.7 L1352.4,286.8 L1355.4,286.9 L1358.4,287.0 L1361.4,287.1 L1364.4,287.2 L1367.4,287.4 L1370.4,287.5 L1373.4,287.6 L1376.4,287.7 L1379.4,287.8 L1382.4,287.9 L1385.4,288.0 L1388.4,288.1 L1391.3,288.3 L1394.3,288.4 L1397.3,288.5 L1400.3,288.6 L1403.3,288.7 L1406.3,288.8 L1409.3,288.9 L1412.3,289.0 L1415.3,289.1 L1418.3,289.3 L1421.3,289.4 L1424.3,289.5 L1427.3,289.6 L1430.3,289.7 L1433.3,289.8 L1436.3,289.9 L1439.3,290.0 L1442.3,290.2 L1445.2,290.3 L1448.2,290.4 L1451.2,290.5 L1454.2,290.6 L1457.2,290.7 L1460.2,290.8 L1463.2,290.9 L1466.2,291.0 L1469.2,291.2 L1472.2,291.3 L1475.2,291.4 L1478.2,291.5 L1481.2,291.6 L1484.2,291.7 L1487.2,291.8 L1490.2,291.9 L1493.2,292.0 L1496.1,292.2 L1499.1,292.3 L1502.1,292.4 L1505.1,292.5 L1508.1,292.6 L1511.1,292.7 L1514.1,292.8 L1517.1,292.9 L1520.1,293.0 L1523.1,293.1 L1526.1,293.3 L1529.1,293.4 L1532.1,293.5 L1535.1,293.6 L1538.1,293.7 L1541.1,293.8 L1544.0,293.9 L1547.0,294.0 L1550.0,294.2 L1553.0,294.3 L1556.0,294.4 L1559.0,294.5 L1562.0,294.6 L1565.0,294.7 L1568.0,294.8 L1571.0,294.9 L1574.0,295.1 L1577.0,295.2 L1580.0,295.3 L1583.0,295.4 L1586.0,295.5 L1588.9,295.6 L1591.9,295.8 L1594.9,295.9 L1597.9,296.0 L1600.9,296.1 L1603.9,296.2 L1606.9,296.3 L1609.9,296.5 L1612.9,296.6 L1615.9,296.7 L1618.9,296.8 L1621.9,296.9 L1624.9,297.1 L1627.9,297.2 L1630.8,297.3 L1633.8,297.4 L1636.8,297.6 L1639.8,297.7 L1642.8,297.8 L1645.8,298.0 L1648.8,298.1 L1651.8,298.2 L1654.8,298.3 L1657.8,298.5 L1660.8,298.6 L1663.8,298.7 L1666.8,298.9 L1669.7,299.0 L1672.7,299.1 L1675.7,299.3 L1678.7,299.4 L1681.7,299.6 L1684.7,299.7 L1687.7,299.8 L1690.7,300.0 L1693.7,300.1 L1696.7,300.3 L1699.7,300.4 L1702.7,300.6 L1705.6,300.7 L1708.6,300.9 L1711.6,301.0 L1714.6,301.2 L1717.6,301.3 L1720.6,301.5 L1723.6,301.6 L1726.6,301.8 L1729.6,301.9 L1732.6,302.1 L1735.6,302.3 L1738.6,302.4 L1741.5,302.6 L1744.5,302.7 L1747.5,302.9 L1750.5,303.1 L1753.5,303.2 L1756.5,303.4 L1759.5,303.6 L1762.5,303.8 L1765.5,303.9 L1768.5,304.1 L1771.5,304.3 L1774.4,304.5 L1777.4,304.6 L1780.4,304.8 L1783.4,305.0 L1786.4,305.2 L1789.4,305.4 L1792.4,305.6 L1795.4,305.8 L1798.4,305.9 L1801.4,306.1 L1804.3,306.3 L1807.3,306.5 L1810.3,306.7 L1813.3,306.9 L1816.3,307.1 L1819.3,307.3 L1822.3,307.5 L1825.3,307.7 L1828.3,308.0 L1831.3,308.2 L1834.2,308.4 L1837.2,308.6 L1840.2,308.8 L1843.2,309.0 L1846.2,309.3 L1849.2,309.5 L1852.2,309.7 L1855.2,309.9 L1858.2,310.2 L1861.2,310.4 L1864.1,310.6 L1867.1,310.9 L1870.1,311.1 L1873.1,311.3 L1876.1,311.6 L1879.1,311.8 L1882.1,312.1 L1885.1,312.3 L1888.1,312.6 L1891.0,312.8 L1894.0,313.1 L1897.0,313.3 L1900.0,313.6 L1903.0,313.8" fill="none" stroke="#036BB3" stroke-width="8.7" stroke-linejoin="round"/>
<path d="M167.50,180.30 L187.70,216.00 L147.30,216.00 Z" fill="#036BB3"/>
<path d="M169.40,189.06 L183.12,213.30 L169.40,213.30 Z" fill="#fff"/>
<path d="M224.90,217.20 L245.10,252.90 L204.70,252.90 Z" fill="#036BB3"/>
<path d="M226.80,225.96 L240.52,250.20 L226.80,250.20 Z" fill="#fff"/>
<path d="M311.90,233.20 L332.10,268.90 L291.70,268.90 Z" fill="#036BB3"/>
<path d="M313.80,241.96 L327.52,266.20 L313.80,266.20 Z" fill="#fff"/>
<path d="M456.90,238.40 L477.10,274.10 L436.70,274.10 Z" fill="#036BB3"/>
<path d="M458.80,247.16 L472.52,271.40 L458.80,271.40 Z" fill="#fff"/>
<path d="M746.30,242.00 L766.50,277.70 L726.10,277.70 Z" fill="#036BB3"/>
<path d="M748.20,250.76 L761.92,275.00 L748.20,275.00 Z" fill="#fff"/>
<path d="M1324.00,263.10 L1344.20,298.80 L1303.80,298.80 Z" fill="#036BB3"/>
<path d="M1325.90,271.86 L1339.62,296.10 L1325.90,296.10 Z" fill="#fff"/>
<path d="M1613.00,271.10 L1633.20,306.80 L1592.80,306.80 Z" fill="#036BB3"/>
<path d="M1614.90,279.86 L1628.62,304.10 L1614.90,304.10 Z" fill="#fff"/>
<path d="M1902.30,291.10 L1922.50,326.80 L1882.10,326.80 Z" fill="#036BB3"/>
<path d="M1904.20,299.86 L1917.92,324.10 L1904.20,324.10 Z" fill="#fff"/>
</g>
<text class="sf" transform="translate(173.92,101.51) scale(0.9829,0.9953)">V</text>
<text class="sf" transform="translate(244.66,102.09) scale(0.9105,1.0852)">,</text>
<text class="sf" transform="translate(289.73,102.00) scale(0.9096,0.9724)">m</text>
<text class="sf" transform="translate(362.90,70.00) scale(0.7750,0.7717)">2</text>
<text class="sf" transform="translate(401.52,101.89) scale(0.9664,1.0086)">/</text>
<text class="sf" transform="translate(427.07,101.93) scale(0.9438,0.9708)">s</text>
<text class="sf" transform="translate(1081.62,1851.00) scale(0.9135,0.9746)">m</text>
<text class="sf" transform="translate(1158.08,1851.00) scale(0.9075,0.9639)">i</text>
<text class="sf" transform="translate(1184.57,1851.00) scale(0.8929,0.9746)">n</text>
<text class="sf" transform="translate(1942.30,341.99) scale(1.0012,1.0101)">3</text>
<text class="sf" transform="translate(1941.82,1196.90) scale(0.9135,1.0079)">1</text>
<text class="sf" transform="translate(1932.90,1422.00) scale(1.0250,1.0094)">2</text>
<text transform="translate(28.50,1672.70) scale(1.0,1.062)" class="ss">0.0</text>
<text transform="translate(28.75,1469.49) scale(1.0,1.062)" class="ss">0.5</text>
<text transform="translate(28.50,1266.27) scale(1.0,1.062)" class="ss">1.0</text>
<text transform="translate(28.75,1063.06) scale(1.0,1.062)" class="ss">1.5</text>
<text transform="translate(28.50,859.84) scale(1.0,1.062)" class="ss">2.0</text>
<text transform="translate(28.75,656.62) scale(1.0,1.062)" class="ss">2.5</text>
<text transform="translate(28.50,453.41) scale(1.0,1.062)" class="ss">3.0</text>
<text transform="translate(28.75,250.19) scale(1.0,1.062)" class="ss">3.5</text>
<text transform="translate(150.25,1754.52) scale(1.0,1.062)" class="ss">0</text>
<text transform="translate(294.82,1754.52) scale(1.0,1.062)" class="ss">5</text>
<text transform="translate(420.27,1754.52) scale(1.0,1.062)" class="ss">10</text>
<text transform="translate(564.97,1754.52) scale(1.0,1.062)" class="ss">15</text>
<text transform="translate(710.30,1754.52) scale(1.0,1.062)" class="ss">20</text>
<text transform="translate(855.00,1754.52) scale(1.0,1.062)" class="ss">25</text>
<text transform="translate(999.82,1754.52) scale(1.0,1.062)" class="ss">30</text>
<text transform="translate(1144.53,1754.52) scale(1.0,1.062)" class="ss">35</text>
<text transform="translate(1289.47,1754.52) scale(1.0,1.062)" class="ss">40</text>
<text transform="translate(1434.17,1754.52) scale(1.0,1.062)" class="ss">45</text>
<text transform="translate(1578.12,1754.52) scale(1.0,1.062)" class="ss">50</text>
<text transform="translate(1722.83,1754.52) scale(1.0,1.062)" class="ss">55</text>
<text transform="translate(1866.90,1754.52) scale(1.0,1.062)" class="ss">60</text>
<text transform="translate(2011.60,1754.52) scale(1.0,1.062)" class="ss">65</text>
</svg>
</body></html>
